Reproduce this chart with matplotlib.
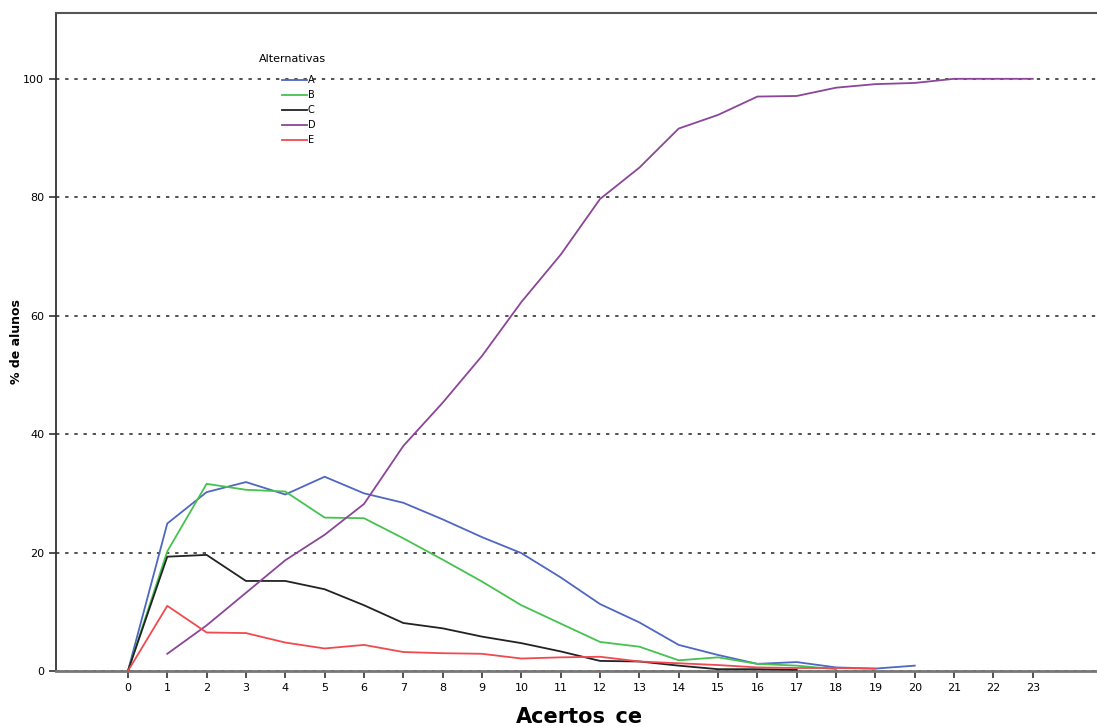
import numpy as np
import matplotlib
matplotlib.use("Agg")
import matplotlib.pyplot as plt

# % de alunos por número de acertos, para cada alternativa
acertos = list(range(0, 24))

alt_A = [0, 24.9, 30.2, 31.9, 29.8, 32.8, 30.0, 28.4, 25.6, 22.6, 19.9, 15.8,
         11.3, 8.2, 4.4, 2.7, 1.2, 1.5, 0.6, 0.4, 0.9]
alt_B = [0, 20.2, 31.6, 30.6, 30.3, 25.9, 25.8, 22.4, 18.8, 15.1, 11.1, 8.0,
         4.9, 4.1, 1.8, 2.3, 1.2, 0.9, 0.3]
alt_C = [0, 19.3, 19.6, 15.2, 15.2, 13.8, 11.1, 8.1, 7.2, 5.8, 4.7, 3.3,
         1.7, 1.6, 0.9, 0.3, 0.3, 0.2]
alt_D = [None, 2.9, 7.7, 13.2, 18.7, 23.0, 28.2, 38.0, 45.3, 53.2, 62.3, 70.3,
         79.7, 85.0, 91.6, 93.9, 97.0, 97.1, 98.5, 99.1, 99.3, 100, 100, 100]
alt_E = [0, 11.0, 6.5, 6.4, 4.8, 3.8, 4.4, 3.2, 3.0, 2.9, 2.1, 2.3,
         2.4, 1.6, 1.3, 1.0, 0.6, 0.5, 0.5, 0.4]

series = {"A": alt_A, "B": alt_B, "C": alt_C, "D": alt_D, "E": alt_E}
cores = {"A": "#4f66c2", "B": "#45c24f", "C": "#222222", "D": "#8b4599", "E": "#f04a50"}

fig = plt.figure(figsize=(10.97, 7.26), dpi=100)
ax = fig.add_axes([0.051, 0.0758, 0.955, 0.9062])

for y in [0, 20, 40, 60, 80, 100]:
    ax.axhline(y, color="#333333", lw=1.2, ls=(0, (2, 3.5)), zorder=1)

for nome, vals in series.items():
    xs = [acertos[i] for i, v in enumerate(vals) if v is not None]
    ys = [v for v in vals if v is not None]
    ax.plot(xs, ys, color=cores[nome], lw=1.3, label=nome, zorder=3)

ax.set_xlim(-1.83, 24.8)
ax.set_ylim(0, 111.1)
ax.set_xticks(acertos)
ax.set_yticks([0, 20, 40, 60, 80, 100])
ax.tick_params(axis="both", labelsize=8, length=5, width=1.2, color="#333333")

ax.spines["right"].set_visible(False)
ax.spines["left"].set_color("#333333")
ax.spines["left"].set_linewidth(1.3)
ax.spines["top"].set_color("#555555")
ax.spines["top"].set_linewidth(1.5)
ax.spines["bottom"].set_color("#777777")
ax.spines["bottom"].set_linewidth(2)

ax.set_xlabel("Acertos_ce", fontsize=15, fontweight="bold", labelpad=10)
ax.set_ylabel("% de alunos", fontsize=9, fontweight="bold", labelpad=0)

# título da legenda separado para acertar o espaçamento
fig.text(292 / 1097, 1 - 59 / 726, "Alternativas", fontsize=8, ha="center", va="center")
leg = ax.legend(loc="upper left", bbox_to_anchor=(0.2115, 0.9125),
                frameon=False, fontsize=7, handlelength=2.5,
                handletextpad=0.1, labelspacing=0.5, borderpad=0)

fig.savefig("out.png", dpi=100)
